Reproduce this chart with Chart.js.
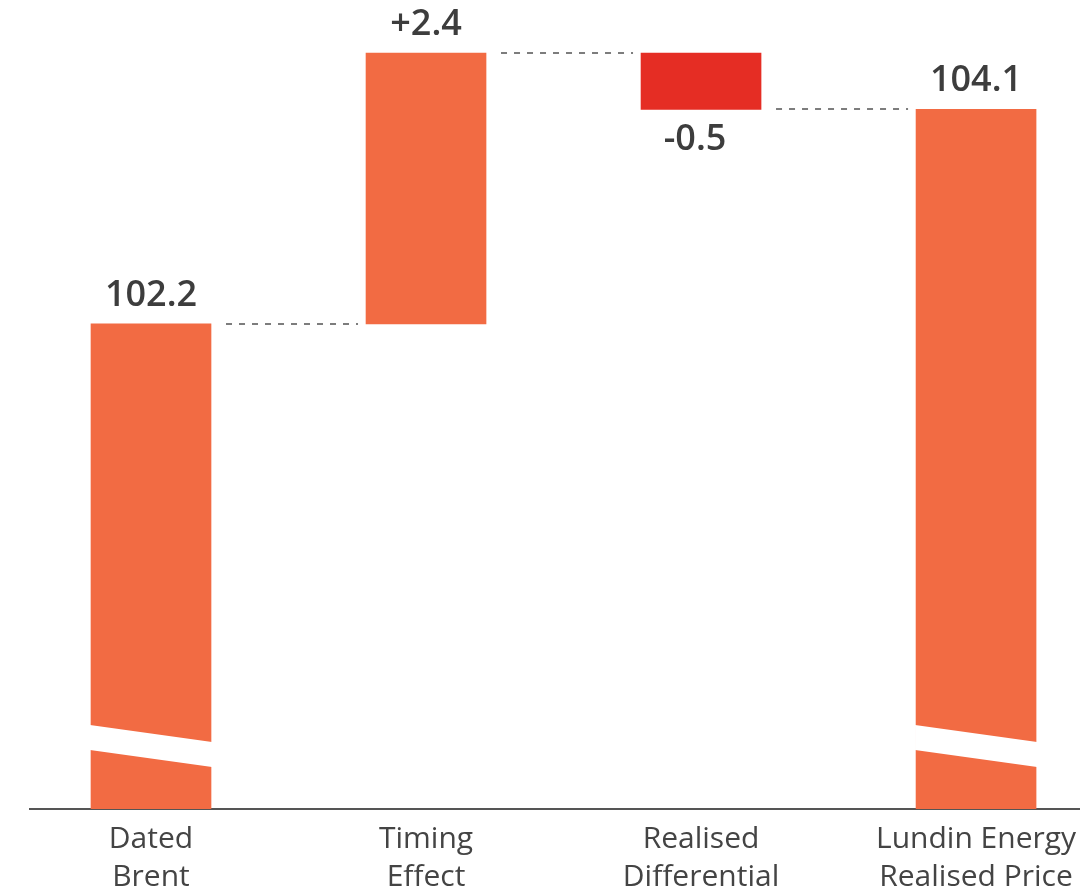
<!DOCTYPE html>
<html>
<head>
<meta charset="utf-8">
<title>Realised price bridge</title>
<script src="https://cdn.jsdelivr.net/npm/chart.js@4/dist/chart.umd.min.js"></script>
<style>
  html, body { margin: 0; padding: 0; background: #fff; }
  #wrap { width: 1080px; height: 890px; }
</style>
</head>
<body>
<div id="wrap"><canvas id="bridge"></canvas></div>
<script>
  // Bridge from Dated Brent to the realised price (USD/boe)
  const categories = [['Dated', 'Brent'], ['Timing', 'Effect'], ['Realised', 'Differential'], ['Lundin Energy', 'Realised Price']];
  const startValue = 102.2;
  const deltas = [2.4, -0.5];
  const endValue = 104.1;
  const axisFloor = 97.9;   // broken axis: bars start here, not at zero
  const axisCeil = 105.07;

  const ORANGE = '#f26b43';
  const RED = '#e52d24';
  const TEXT = '#3d3d3d';

  // floating ranges for each bar, plus the level where each one ends
  const ranges = [[axisFloor, startValue]];
  const levels = [startValue];
  let run = startValue;
  deltas.forEach((d) => {
    ranges.push([Math.min(run, run + d), Math.max(run, run + d)]);
    run += d;
    levels.push(run);
  });
  ranges.push([axisFloor, endValue]);
  levels.push(endValue);

  const labels = [startValue.toFixed(1), ...deltas.map((d) => (d >= 0 ? '+' : '-') + Math.abs(d).toFixed(1)), endValue.toFixed(1)];
  const colors = [ORANGE, ...deltas.map((d) => (d >= 0 ? ORANGE : RED)), ORANGE];

  const bridgePlugin = {
    id: 'bridge',
    afterDatasetsDraw(chart) {
      const { ctx, scales: { y } } = chart;
      const bars = chart.getDatasetMeta(0).data;
      const base = y.getPixelForValue(axisFloor);
      ctx.save();

      // dashed connectors between consecutive bars
      ctx.strokeStyle = '#7d7d7d';
      ctx.lineWidth = 2;
      ctx.setLineDash([6, 7]);
      for (let i = 0; i < bars.length - 1; i++) {
        const a = bars[i], b = bars[i + 1];
        const py = Math.round(y.getPixelForValue(levels[i]));
        ctx.beginPath();
        ctx.moveTo(a.x + a.width / 2 + 15, py);
        ctx.lineTo(b.x - b.width / 2 - 8, py);
        ctx.stroke();
      }
      ctx.setLineDash([]);

      // axis break cut through the full-height bars
      ctx.fillStyle = '#fff';
      [0, bars.length - 1].forEach((i) => {
        const b = bars[i];
        const l = b.x - b.width / 2 - 1, r = b.x + b.width / 2 + 1;
        ctx.beginPath();
        ctx.moveTo(l, base - 84);
        ctx.lineTo(r, base - 67);
        ctx.lineTo(r, base - 42);
        ctx.lineTo(l, base - 59);
        ctx.closePath();
        ctx.fill();
      });

      // value labels
      ctx.fillStyle = TEXT;
      ctx.font = '600 36px "Open Sans", sans-serif';
      ctx.textAlign = 'center';
      bars.forEach((b, i) => {
        const neg = i > 0 && i <= deltas.length && deltas[i - 1] < 0;
        if (neg) {
          ctx.textBaseline = 'top';
          ctx.fillText(labels[i], b.x - 6, y.getPixelForValue(ranges[i][0]) + 12);
        } else {
          ctx.textBaseline = 'alphabetic';
          ctx.fillText(labels[i], b.x, y.getPixelForValue(ranges[i][1]) - 18);
        }
      });
      ctx.restore();
    },
  };

  new Chart(document.getElementById('bridge'), {
    type: 'bar',
    data: {
      datasets: [{
        data: ranges.map((r, i) => ({ x: i, y: r })),
        backgroundColor: colors,
        borderWidth: 0,
        barThickness: 120,
      }],
    },
    options: {
      responsive: true,
      maintainAspectRatio: false,
      animation: false,
      layout: { padding: { left: 30, right: 0, top: 0, bottom: 0 } },
      plugins: { legend: { display: false }, tooltip: { enabled: false } },
      scales: {
        x: {
          type: 'linear',
          offset: false,
          min: -0.44,
          max: 3.378,
          afterBuildTicks: (s) => { s.ticks = categories.map((c, i) => ({ value: i })); },
          afterFit: (s) => { s.height = 81; s.paddingLeft = 0; s.paddingRight = 0; },
          grid: { display: false, drawTicks: false },
          border: { display: true, color: '#555', width: 2 },
          ticks: {
            padding: 11,
            color: '#444',
            font: { family: '"Open Sans", sans-serif', size: 30, lineHeight: '38px' },
            maxRotation: 0,
            autoSkip: false,
            callback: (v) => categories[v],
          },
        },
        y: { display: false, min: axisFloor, max: axisCeil },
      },
    },
    plugins: [bridgePlugin],
  });
</script>
</body>
</html>
